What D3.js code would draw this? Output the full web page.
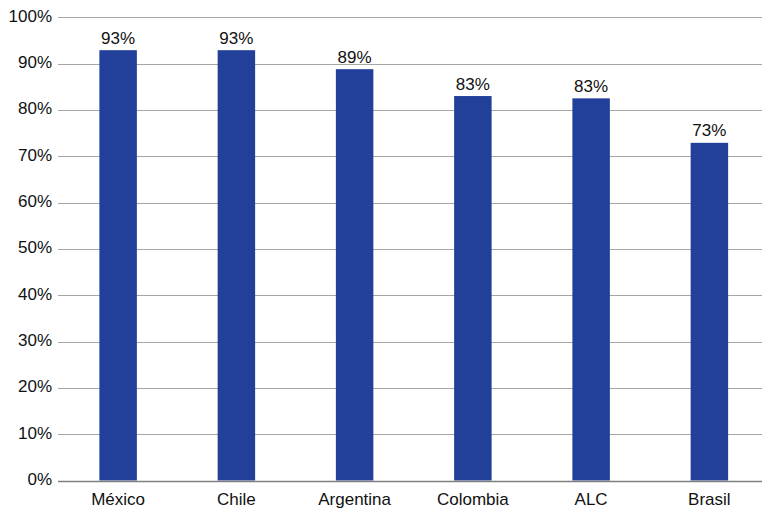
<!DOCTYPE html>
<html><head><meta charset="utf-8">
<script src="https://cdn.jsdelivr.net/npm/d3@7"></script>
<style>body{margin:0;background:#fff}svg{display:block}text{font-family:"Liberation Sans",Arial,Helvetica,sans-serif}</style>
</head><body><svg id="c" width="762" height="511"></svg>
<script>
const categories = ["México","Chile","Argentina","Colombia","ALC","Brasil"];
const values = [92.9, 92.9, 88.8, 83.0, 82.5, 72.9];
const labels = ["93%","93%","89%","83%","83%","73%"];
const yTicks = [0,10,20,30,40,50,60,70,80,90,100];

const svg = d3.select("#c");
const x = d3.scaleBand().domain(categories).range([59, 768.5]).paddingInner(0.683).paddingOuter(0.3415);
const y = d3.scaleLinear().domain([0,100]).range([480.5, 17.3]);

// grid
svg.append("g").selectAll("line").data(yTicks.filter(d=>d>0)).join("line")
  .attr("x1",58).attr("x2",762).attr("y1",d=>Math.round(y(d))+0.5).attr("y2",d=>Math.round(y(d))+0.5)
  .attr("stroke","#a6a6a6").attr("stroke-width",1);

// bars
svg.append("g").selectAll("rect").data(values).join("rect")
  .attr("x",(d,i)=>x(categories[i])).attr("width",x.bandwidth())
  .attr("y",d=>y(d)).attr("height",d=>y(0)-y(d))
  .attr("fill","#22409a");

// zero axis line
svg.append("line").attr("x1",58).attr("x2",762).attr("y1",Math.round(y(0))+0.5).attr("y2",Math.round(y(0))+0.5)
  .attr("stroke","#808080").attr("stroke-width",1.3);

// y tick labels
svg.append("g").selectAll("text").data(yTicks).join("text")
  .attr("x",52).attr("y",d=>y(d)+4.5).attr("text-anchor","end")
  .attr("font-size",17).attr("fill","#111").text(d=>d+"%");

// value labels
svg.append("g").selectAll("text").data(values).join("text")
  .attr("x",(d,i)=>x(categories[i])+x.bandwidth()/2).attr("y",d=>y(d)-6.5)
  .attr("text-anchor","middle").attr("font-size",17).attr("fill","#111")
  .text((d,i)=>labels[i]);

// category labels
svg.append("g").selectAll("text").data(categories).join("text")
  .attr("x",d=>x(d)+x.bandwidth()/2).attr("y",505)
  .attr("text-anchor","middle").attr("font-size",17).attr("fill","#111").text(d=>d);
</script></body></html>
